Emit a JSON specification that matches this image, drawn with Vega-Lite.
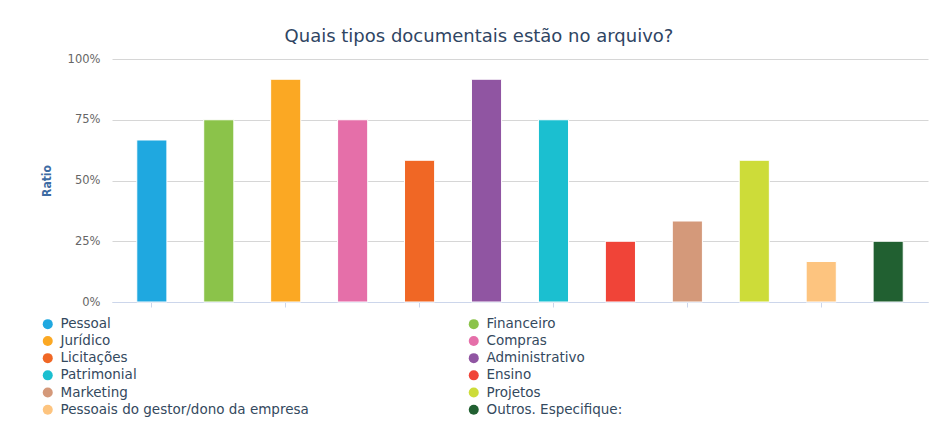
{
  "$schema": "https://vega.github.io/schema/vega-lite/v6.json",
  "autosize": "none",
  "width": 816,
  "height": 243,
  "padding": {"left": 112, "top": 59, "right": 8, "bottom": 130},
  "background": "#ffffff",
  "title": {
    "text": "Quais tipos documentais estão no arquivo?",
    "font": "DejaVu Sans",
    "fontSize": 18,
    "fontWeight": "normal",
    "color": "#2f4563",
    "anchor": "middle",
    "offset": 7,
    "dx": -41
  },
  "data": {
    "values": [
      {"tipo": "Pessoal", "ratio": 0.6667},
      {"tipo": "Financeiro", "ratio": 0.75},
      {"tipo": "Jurídico", "ratio": 0.9167},
      {"tipo": "Compras", "ratio": 0.75},
      {"tipo": "Licitações", "ratio": 0.5833},
      {"tipo": "Administrativo", "ratio": 0.9167},
      {"tipo": "Patrimonial", "ratio": 0.75},
      {"tipo": "Ensino", "ratio": 0.25},
      {"tipo": "Marketing", "ratio": 0.3333},
      {"tipo": "Projetos", "ratio": 0.5833},
      {"tipo": "Pessoais do gestor/dono da empresa", "ratio": 0.1667},
      {"tipo": "Outros. Especifique:", "ratio": 0.25}
    ]
  },
  "config": {
    "view": {"stroke": null},
    "font": "DejaVu Sans"
  },
  "mark": {"type": "bar", "stroke": "#ffffff", "strokeWidth": 1},
  "encoding": {
    "x": {
      "field": "tipo",
      "type": "nominal",
      "sort": null,
      "scale": {"paddingInner": 0.55, "paddingOuter": 0.37},
      "axis": {
        "title": null,
        "labels": false,
        "domainColor": "#ccd6eb",
        "tickColor": "#ccd6eb",
        "tickSize": 5,
        "values": ["Pessoal", "Jurídico", "Licitações", "Patrimonial", "Marketing", "Pessoais do gestor/dono da empresa"]
      }
    },
    "y": {
      "field": "ratio",
      "type": "quantitative",
      "scale": {"domain": [0, 1]},
      "axis": {
        "title": "Ratio",
        "titleColor": "#3d6ba3",
        "titleFont": "DejaVu Sans Condensed",
        "titleFontSize": 12,
        "titleFontWeight": "bold",
        "titlePadding": 14,
        "values": [0, 0.25, 0.5, 0.75, 1],
        "format": ".0%",
        "labelColor": "#666666",
        "labelFontSize": 11.5,
        "labelPadding": 12,
        "ticks": false,
        "domain": false,
        "gridColor": "#d6d6d6",
        "gridWidth": 1
      }
    },
    "color": {
      "field": "tipo",
      "type": "nominal",
      "sort": null,
      "scale": {
        "domain": ["Pessoal", "Financeiro", "Jurídico", "Compras", "Licitações", "Administrativo", "Patrimonial", "Ensino", "Marketing", "Projetos", "Pessoais do gestor/dono da empresa", "Outros. Especifique:"],
        "range": ["#1fa8e0", "#8bc34a", "#fba823", "#e56fa9", "#f06725", "#9055a2", "#1bbfd0", "#f04438", "#d4997a", "#cddc39", "#fdc47f", "#216031"]
      },
      "legend": {
        "title": null,
        "orient": "none",
        "direction": "horizontal",
        "legendX": -71,
        "legendY": 258,
        "columns": 2,
        "columnPadding": 158,
        "rowPadding": 2.2,
        "symbolType": "circle",
        "symbolSize": 100,
        "symbolStrokeWidth": 0,
        "labelFont": "DejaVu Sans",
        "labelFontSize": 13.5,
        "labelColor": "#34495e",
        "labelLimit": 400,
        "labelOffset": 6
      }
    }
  }
}
